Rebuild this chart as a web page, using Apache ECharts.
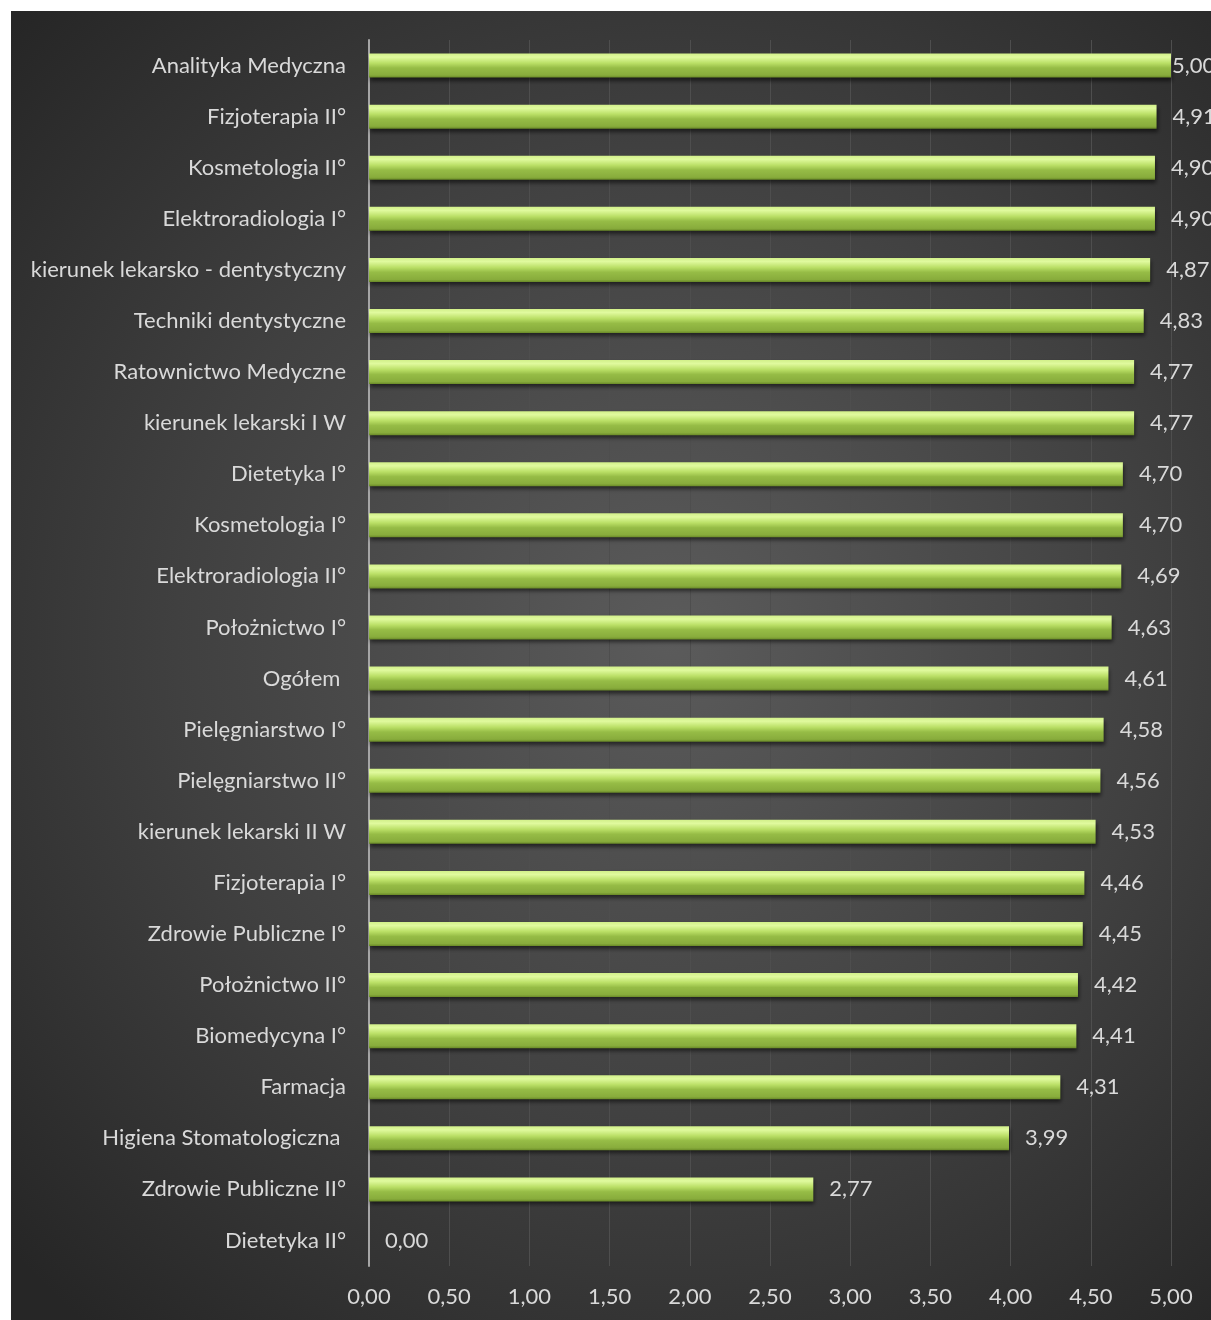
<!DOCTYPE html>
<html><head><meta charset="utf-8">
<script src="https://cdn.jsdelivr.net/npm/echarts@6/dist/echarts.min.js"></script>
<style>html,body{margin:0;padding:0;background:#fff;}#c{position:absolute;left:11px;top:11px;width:1200px;height:1309px;}</style>
</head><body><div id="c"></div>
<script>
const categories = ["Analityka Medyczna","Fizjoterapia II°","Kosmetologia II°","Elektroradiologia I°","kierunek lekarsko - dentystyczny","Techniki dentystyczne","Ratownictwo Medyczne","kierunek lekarski I W","Dietetyka I°","Kosmetologia I°","Elektroradiologia II°","Położnictwo I°","Ogółem ","Pielęgniarstwo I°","Pielęgniarstwo II°","kierunek lekarski II W","Fizjoterapia I°","Zdrowie Publiczne I°","Położnictwo II°","Biomedycyna I°","Farmacja","Higiena Stomatologiczna ","Zdrowie Publiczne II°","Dietetyka II°"];
const values = [5.00,4.91,4.90,4.90,4.87,4.83,4.77,4.77,4.70,4.70,4.69,4.63,4.61,4.58,4.56,4.53,4.46,4.45,4.42,4.41,4.31,3.99,2.77,0.00];
const tickMin = 0, tickMax = 5, tickStep = 0.5;

const fmt = v => v.toFixed(2).replace('.', ',');
const FONT = 'Lato';
const chart = echarts.init(document.getElementById('c'), null, {renderer:'canvas'});
const data = values.map(v => {
  const d = {value: v};
  if (v >= tickMax) d.label = {distance: 1};
  return d;
});
chart.setOption({
  backgroundColor: {type:'radial', x:0.55, y:0.48, r:0.75, colorStops:[
    {offset:0, color:'#5b5b5b'},{offset:0.55, color:'#404040'},{offset:1, color:'#262626'}]},
  animation:false,
  grid:{left:358, top:29, right:40, bottom:54, containLabel:false},
  xAxis:{type:'value', min:tickMin, max:tickMax, interval:tickStep,
    axisLine:{show:false}, axisTick:{show:false},
    splitLine:{show:true, lineStyle:{color:'#4e4e4e', width:1}},
    axisLabel:{color:'#d9d9d9', fontFamily:FONT, fontSize:22, margin:20, formatter:v=>fmt(v)}},
  yAxis:{type:'category', inverse:true, data:categories,
    axisLine:{show:true, lineStyle:{color:'#a6a6a6', width:2}}, axisTick:{show:false},
    axisLabel:{color:'#d9d9d9', fontFamily:FONT, fontSize:22, margin:23}},
  series:[{type:'bar', data:data, barWidth:24,
    itemStyle:{color:{type:'linear', x:0, y:0, x2:0, y2:1, colorStops:[
      {offset:0, color:'#d2f08a'},{offset:0.15, color:'#e0fa9e'},{offset:0.4, color:'#badf66'},
      {offset:0.6, color:'#96bc46'},{offset:0.9, color:'#88ac3c'},{offset:1, color:'#6a8a28'}]},
      shadowColor:'rgba(0,0,0,0.55)', shadowBlur:4, shadowOffsetY:3, shadowOffsetX:1},
    label:{show:true, position:'right', distance:16, color:'#d9d9d9', fontFamily:FONT, fontSize:22,
      formatter:p=>fmt(p.value)}}]
});
</script></body></html>
